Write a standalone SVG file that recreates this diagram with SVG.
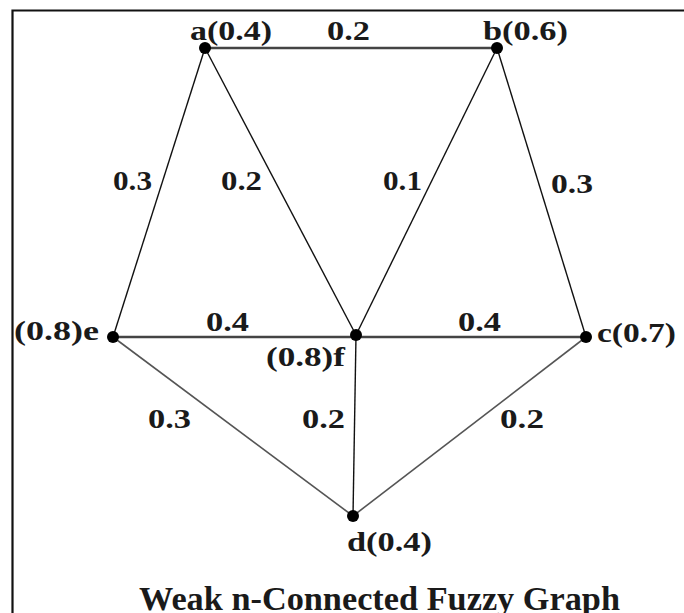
<svg xmlns="http://www.w3.org/2000/svg" width="684" height="613" viewBox="0 0 684 613">
<style>
.lbl{font-family:"Liberation Serif","Times New Roman",serif;font-weight:bold;font-size:28px;fill:#1a1a1a}
.ttl{font-family:"Liberation Serif","Times New Roman",serif;font-weight:bold;font-size:33px;fill:#1a1a1a}
.e{stroke:#111;stroke-width:1.4;fill:none}
.h{stroke:#444;stroke-width:2.4;fill:none}
.g{stroke:#555;stroke-width:1.6;fill:none}
.dot{fill:#000}
</style>
<rect width="684" height="613" fill="#fff"/>
<path d="M12.5 613 V10.5 H684" stroke="#111" stroke-width="2.2" fill="none"/>
<g id="connectors">
<line class="h" x1="205" y1="48" x2="497" y2="48"/>
<line class="e" x1="205" y1="48" x2="113" y2="337"/>
<line class="e" x1="205" y1="48" x2="356" y2="335"/>
<line class="e" x1="497" y1="48" x2="356" y2="335"/>
<line class="e" x1="497" y1="48" x2="586" y2="337"/>
<line class="h" x1="113" y1="337" x2="586" y2="337"/>
<line class="g" x1="113" y1="337" x2="353" y2="516"/>
<line class="e" x1="356" y1="335" x2="353" y2="516"/>
<line class="g" x1="586" y1="337" x2="353" y2="516"/>
<text class="lbl" x="327" y="40" textLength="43" lengthAdjust="spacingAndGlyphs">0.2</text>
<text class="lbl" x="113" y="190" textLength="39" lengthAdjust="spacingAndGlyphs">0.3</text>
<text class="lbl" x="221" y="190" textLength="41" lengthAdjust="spacingAndGlyphs">0.2</text>
<text class="lbl" x="383" y="190" textLength="39" lengthAdjust="spacingAndGlyphs">0.1</text>
<text class="lbl" x="551" y="193" textLength="42" lengthAdjust="spacingAndGlyphs">0.3</text>
<text class="lbl" x="206" y="331" textLength="43" lengthAdjust="spacingAndGlyphs">0.4</text>
<text class="lbl" x="458" y="331" textLength="43" lengthAdjust="spacingAndGlyphs">0.4</text>
<text class="lbl" x="148" y="428" textLength="43" lengthAdjust="spacingAndGlyphs">0.3</text>
<text class="lbl" x="302" y="428" textLength="43" lengthAdjust="spacingAndGlyphs">0.2</text>
<text class="lbl" x="500" y="428" textLength="44" lengthAdjust="spacingAndGlyphs">0.2</text>
</g>
<g id="node-a"><circle class="dot" cx="205" cy="48" r="6"/><text class="lbl" x="190" y="40" textLength="82" lengthAdjust="spacingAndGlyphs">a(0.4)</text></g>
<g id="node-b"><circle class="dot" cx="497" cy="48" r="6"/><text class="lbl" x="483" y="40" textLength="85" lengthAdjust="spacingAndGlyphs">b(0.6)</text></g>
<g id="node-e"><circle class="dot" cx="113" cy="337" r="6"/><text class="lbl" x="14" y="340" textLength="85" lengthAdjust="spacingAndGlyphs">(0.8)e</text></g>
<g id="node-f"><circle class="dot" cx="356" cy="335" r="6"/><text class="lbl" x="266" y="366" textLength="79" lengthAdjust="spacingAndGlyphs">(0.8)f</text></g>
<g id="node-c"><circle class="dot" cx="586" cy="337" r="6"/><text class="lbl" x="597" y="342" textLength="79" lengthAdjust="spacingAndGlyphs">c(0.7)</text></g>
<g id="node-d"><circle class="dot" cx="353" cy="516" r="6"/><text class="lbl" x="347" y="551" textLength="85" lengthAdjust="spacingAndGlyphs">d(0.4)</text></g>
<g id="title"><text class="ttl" x="139" y="610" textLength="481" lengthAdjust="spacingAndGlyphs">Weak n-Connected Fuzzy Graph</text></g>
</svg>
